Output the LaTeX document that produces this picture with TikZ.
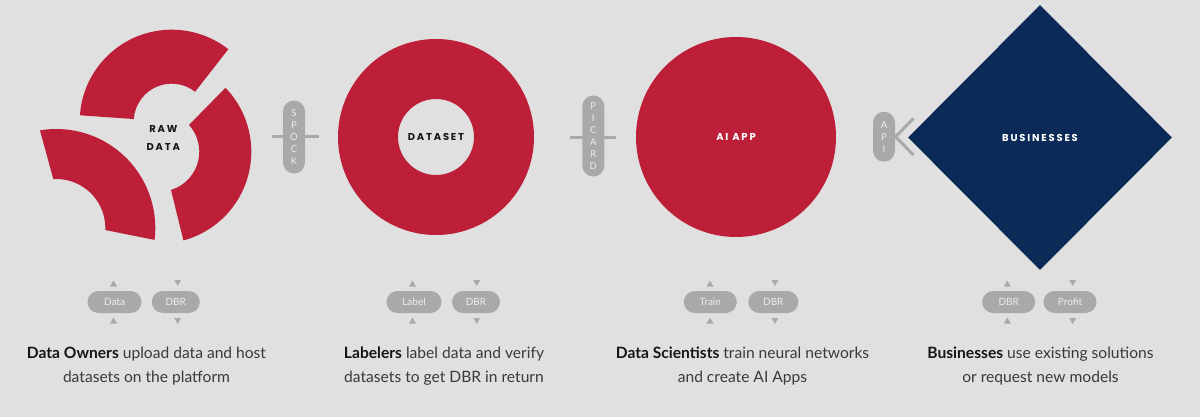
\documentclass[tikz,border=0pt]{standalone}
\usepackage{fontspec}
\setmainfont{Lato}
\newfontfamily\capsfont[LetterSpace=8]{Lato}
\newfontfamily\labelfont[LetterSpace=18]{Poppins}
\usetikzlibrary{shapes.geometric}
\definecolor{bg}{HTML}{E0E0E0}
\definecolor{brandred}{HTML}{BD1F38}
\definecolor{navy}{HTML}{0C2A57}
\definecolor{pillgray}{HTML}{A9A9A9}
\definecolor{pilltext}{HTML}{EDEDED}
\definecolor{txtdark}{HTML}{3A3A3A}
\definecolor{txtblack}{HTML}{161616}
\begin{document}
\begin{tikzpicture}[x=1pt,y=1pt,
  pill/.style={fill=pillgray, rounded corners=11pt, minimum height=22pt, inner sep=0pt, text=pilltext, font=\fontsize{10}{12}\selectfont},
  vpill/.style={fill=pillgray, rounded corners=11pt, minimum width=22pt, inner sep=0pt, text=pilltext, font=\capsfont\fontsize{9.5}{12}\selectfont, align=center},
  link/.style={draw=pillgray, line width=3pt},
  tri/.style={regular polygon, regular polygon sides=3, fill=pillgray, minimum size=8pt, inner sep=0pt},
  tridown/.style={tri, shape border rotate=180},
  caps/.style={font=\labelfont\bfseries\fontsize{10}{18}\selectfont, align=center},
  desc/.style={font=\fontsize{15.6}{24}\selectfont, text=txtdark, align=center},
  piece/.style={fill=brandred}
]
\fill[bg] (0,0) rectangle (1200,-417);
\useasboundingbox (0,0) rectangle (1200,-417);

% ---------- RAW DATA (broken ring) ----------
\fill[piece, shift={(171.7,-121.7)}] (176:92) arc[start angle=176, end angle=52, radius=92]
  -- (52:38) arc[start angle=52, end angle=176, radius=38] -- cycle;
\fill[piece, shift={(159.3,-151.7)}] (44:92) arc[start angle=44, end angle=-74.8, radius=92]
  -- (-73:40) arc[start angle=-73, end angle=42, radius=40] -- cycle;
\fill[piece, shift={(56.3,-228)}] (99.5:99) arc[start angle=99.5, end angle=-6.9, radius=99]
  -- (-2.4:49) arc[start angle=-2.4, end angle=93.5, radius=49] -- cycle;
\node[caps, text=txtblack] (raw) at (163.3,-137.5) {RAW\\DATA};

% ---------- DATASET ring ----------
\node[circle, draw=brandred, line width=60pt, minimum size=136pt, inner sep=0pt,
      caps, text=txtblack] (dataset) at (436,-137) {DATASET};

% ---------- AI APP ----------
\node[circle, fill=brandred, minimum size=200pt, inner sep=0pt, caps, text=white] (ai) at (736,-137) {AI APP};

% ---------- BUSINESSES ----------
\node[diamond, fill=navy, minimum width=264pt, minimum height=265pt, inner sep=0pt,
      caps, text=white] (biz) at (1040,-137.5) {BUSINESSES};

% ---------- connectors ----------
\coordinate (spockL) at (271.7,-137);
\coordinate (spockR) at (319.3,-137);
\draw[link] (spockL) -- (spockR);
\node[vpill, minimum height=73pt] (spock) at (294,-137) {S\\P\\O\\C\\K};

\coordinate (picardL) at (570,-137.3);
\coordinate (picardR) at (616,-137.3);
\draw[link] (picardL) -- (picardR);
\node[vpill, minimum height=81pt] (picard) at (593.3,-136) {P\\I\\C\\A\\R\\D};

\coordinate (chevU) at (913.5,-118.5);
\coordinate (chevV) at (895.5,-136.7);
\coordinate (chevD) at (913.5,-155);
\draw[link] (chevU) -- (chevV) -- (chevD);
\node[vpill, minimum height=50pt] (api) at (884,-136.7) {A\\P\\I};

% ---------- bottom pills ----------
\node[pill, minimum width=54pt] (p1) at (114.5,-302) {Data};
\node[pill, minimum width=48pt] (p2) at (175.8,-302) {DBR};
\node[tri] (t1a) at (113.5,-284.5) {};
\node[tri] (t1b) at (113.5,-321.5) {};
\node[tridown] (t2a) at (177.7,-282) {};
\node[tridown] (t2b) at (177.7,-320) {};

\node[pill, minimum width=55pt] (p3) at (414,-302) {Label};
\node[pill, minimum width=48pt] (p4) at (476,-302) {DBR};
\node[tri] (t3a) at (412.5,-284.5) {};
\node[tri] (t3b) at (412.5,-321.5) {};
\node[tridown] (t4a) at (476.7,-282) {};
\node[tridown] (t4b) at (476.7,-320) {};

\node[pill, minimum width=53pt] (p5) at (710.3,-302) {Train};
\node[pill, minimum width=50pt] (p6) at (773.3,-302) {DBR};
\node[tri] (t5a) at (710,-284.5) {};
\node[tri] (t5b) at (710,-321.5) {};
\node[tridown] (t6a) at (775,-282) {};
\node[tridown] (t6b) at (775,-320) {};

\node[pill, minimum width=53pt] (p7) at (1008.7,-302) {DBR};
\node[pill, minimum width=53pt] (p8) at (1070,-302) {Profit};
\node[tri] (t7a) at (1007.3,-284.5) {};
\node[tri] (t7b) at (1007.3,-321.5) {};
\node[tridown] (t8a) at (1072.7,-282) {};
\node[tridown] (t8b) at (1072.7,-320) {};

% ---------- descriptions ----------
\node[desc] (d1) at (146.5,-366) {{\color{txtblack}\bfseries Data Owners} upload data and host\\datasets on the platform};
\node[desc] (d2) at (444,-366) {{\color{txtblack}\bfseries Labelers} label data and verify\\datasets to get DBR in return};
\node[desc] (d3) at (742.5,-366) {{\color{txtblack}\bfseries Data Scientists} train neural networks\\and create AI Apps};
\node[desc] (d4) at (1040.5,-366) {{\color{txtblack}\bfseries Businesses} use existing solutions\\or request new models};
\end{tikzpicture}
\end{document}
